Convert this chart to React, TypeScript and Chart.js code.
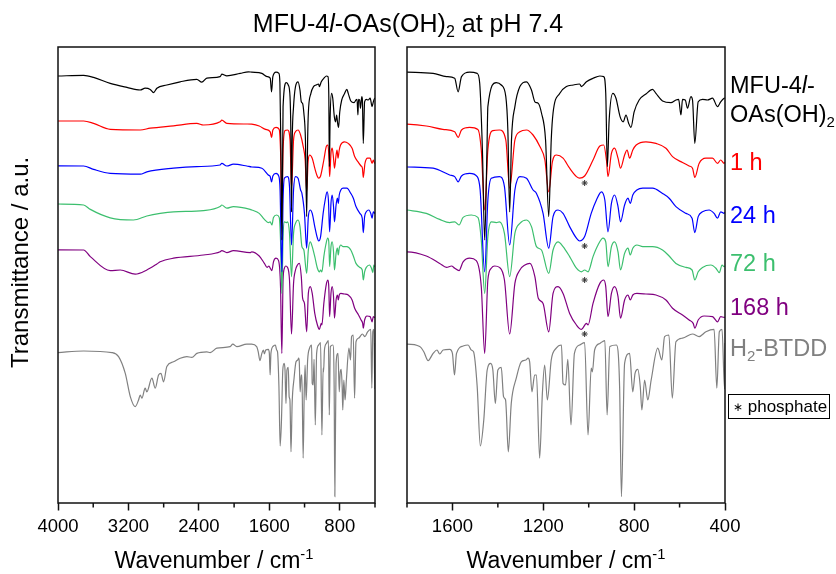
import React, { useEffect, useRef } from "react";
import { Chart, registerables } from "chart.js";

Chart.register(...registerables);

// ---------- data: [wavenumber (cm-1), offset transmittance (a.u.)] ----------
const mfuSpectrum: [number, number][] = [
  [4000, 106.75], [3709, 106.9], [3596, 106.4], [3407, 104.9], [3217, 103.9], [3066, 103.25], [3010, 103.7],
  [2953, 103.4], [2915, 102.6], [2877, 103.7], [2764, 104.5], [2613, 105.3], [2424, 105.9], [2367, 105.2],
  [2310, 106.2], [2159, 106.6], [2140, 107.2], [2083, 106.8], [1932, 107.4], [1837, 107.8],
  [1800, 107.7], [1685, 107.4], [1626, 106.6], [1590, 106.2], [1575, 102.8], [1560, 106.6], [1524, 107.7],
  [1491, 107.4], [1480, 105], [1468, 88.25], [1458, 65.75], [1448, 88.25], [1444, 99.1], [1407, 105.1],
  [1385, 104.5], [1365, 101.6], [1356, 93.25], [1348, 72.75], [1340, 90.75], [1325, 99.1], [1303, 104.1],
  [1274, 105.3], [1252, 103.25], [1237, 100.3], [1222, 99.9], [1208, 97.5], [1190, 90.75], [1176, 71.6],
  [1165, 90.75], [1157, 97.5], [1128, 102.4], [1098, 104.1], [1069, 104.5], [1040, 104.75], [1032, 104.1],
  [1010, 105.3], [980, 106.2], [951, 106.75], [934, 106.6], [925, 102.4], [918, 84.1], [910, 95.75],
  [894, 102.4], [880, 101.2], [862, 96.6], [848, 95.3], [836, 97], [824, 94.9], [814, 93.9], [800, 97.8],
  [778, 100.75], [748, 102.25], [719, 103.4], [704, 102.4], [675, 100.5], [638, 100.1], [616, 100.75],
  [604, 100.9], [594, 97], [587, 100.9], [575, 100.75], [565, 98.7], [550, 101.6], [543, 100.75],
  [533, 89.9], [518, 100.3], [499, 100.9], [477, 100.75], [455, 101.2], [433, 99.1], [419, 100.3],
  [404, 101.2], [400, 101.25],
];

const h1Spectrum: [number, number][] = [
  [4000, 95.5], [3709, 95.5], [3596, 94.9], [3407, 93.4], [3066, 93.25], [2953, 93.7], [2688, 94.3],
  [2424, 94.9], [2348, 94.5], [2159, 95.3], [2140, 95.7], [2083, 94.9], [1856, 94.75],
  [1800, 94.7], [1715, 94.25], [1642, 93.4], [1590, 92.8], [1575, 91.4], [1560, 93.25], [1524, 93.9],
  [1488, 93.4], [1473, 88.25], [1458, 73.25], [1444, 88.25], [1422, 93.1], [1393, 93.25], [1365, 90.75],
  [1348, 78.7], [1325, 90.75], [1303, 92.8], [1274, 93.25], [1245, 92], [1215, 89.1], [1193, 85.75],
  [1176, 77.8], [1160, 85.3], [1142, 87], [1113, 86.2], [1084, 83.7], [1054, 81.6], [1040, 81.2],
  [1018, 81.75], [981, 85.75], [951, 89.25], [934, 89.5], [922, 85.75], [915, 81.6], [900, 87.4],
  [886, 88.7], [871, 86.2], [860, 83.7], [842, 87], [831, 88.25], [820, 86.2], [806, 88.25], [791, 89.5],
  [748, 90.3], [704, 89.9], [660, 88.7], [631, 86.6], [587, 85.1], [558, 84.25], [543, 83.7], [533, 81.4],
  [514, 84.9], [484, 86.2], [455, 86.2], [433, 84.9], [419, 85.75], [404, 84.9], [400, 85.25],
];

const h24Spectrum: [number, number][] = [
  [4000, 84.3], [3709, 84.25], [3596, 83.4], [3407, 82.4], [3066, 82.2], [2991, 82.8], [2688, 83.7],
  [2424, 84.1], [2159, 84.5], [2140, 84.9], [2083, 84.25], [2008, 84.7], [1856, 84.25],
  [1800, 84], [1685, 83.7], [1612, 82], [1590, 81.6], [1575, 80.3], [1560, 81.75], [1524, 82.4],
  [1491, 81.6], [1478, 78.25], [1458, 57.8], [1444, 75.75], [1429, 81.2], [1393, 81.6], [1371, 79.1],
  [1348, 64.5], [1325, 78.25], [1303, 81.6], [1274, 81.2], [1245, 78.25], [1230, 77.4], [1201, 72.4],
  [1176, 63.7], [1157, 71.6], [1135, 73.25], [1113, 72.4], [1084, 69.1], [1054, 66.2], [1040, 65.5],
  [1018, 66.6], [989, 72.4], [966, 75.75], [944, 77.8], [929, 75.75], [915, 67.8], [900, 74.9], [886, 77],
  [871, 74.1], [860, 70.3], [842, 74.5], [827, 76.2], [817, 74.9], [806, 77], [788, 78.25], [762, 78.7],
  [719, 78.7], [675, 77.4], [646, 76.2], [616, 74.1], [572, 72.4], [545, 71.2], [533, 67.6], [518, 71.6],
  [499, 72.8], [470, 73.25], [448, 72.4], [433, 71.2], [419, 72.8], [404, 72.4], [400, 72.75],
];

const h72Spectrum: [number, number][] = [
  [4000, 74.75], [3709, 74.5], [3633, 73.4], [3407, 71.3], [3143, 70.75], [2991, 71.75], [2840, 72.4],
  [2688, 72.8], [2348, 73.1], [2159, 74.1], [2140, 74.5], [2083, 73.7], [2008, 74.1], [1818, 73.4],
  [1800, 73.25], [1715, 72.4], [1656, 70.9], [1612, 70.1], [1590, 70.3], [1571, 69.5], [1553, 71.4],
  [1517, 72], [1488, 71.4], [1473, 65.75], [1458, 52.4], [1444, 66.6], [1429, 70.3], [1407, 70.1],
  [1393, 70.3], [1371, 67.4], [1348, 56.6], [1325, 67.4], [1303, 69.9], [1274, 70.75], [1252, 69.1],
  [1230, 64.1], [1208, 63.25], [1176, 57.4], [1157, 63.25], [1135, 65.3], [1113, 64.1], [1084, 61.6],
  [1054, 58.7], [1032, 57.8], [1018, 58.25], [1003, 57.8], [981, 61.6], [959, 64.5], [937, 66.2],
  [925, 65.3], [915, 59.1], [900, 64.1], [886, 65.3], [871, 62.8], [860, 58.25], [842, 62.4], [827, 63.7],
  [817, 62], [806, 63.7], [788, 64.5], [762, 64.1], [719, 64.1], [675, 63.25], [646, 61.75], [616, 59.9],
  [572, 58.9], [545, 58.25], [533, 55.75], [518, 57.8], [499, 58.9], [462, 59.5], [440, 58.7], [425, 57.6],
  [413, 59.5], [404, 59.1], [400, 59.25],
];

const h168Spectrum: [number, number][] = [
  [4000, 63.3], [3709, 63.25], [3633, 61.6], [3407, 58.1], [3293, 58.25], [3123, 57.2], [2991, 58.25],
  [2877, 59.75], [2840, 60.3], [2688, 61.2], [2348, 62], [2159, 62.8], [2140, 63.1], [2083, 62.6],
  [2008, 63.1], [1818, 62.6],
  [1800, 62.8], [1715, 61.75], [1656, 59.9], [1626, 58.9], [1604, 59.25], [1590, 58.7], [1571, 58.1],
  [1553, 60.3], [1524, 61.2], [1495, 60.6], [1473, 54.1], [1458, 37.4], [1444, 55.75], [1429, 58.7],
  [1414, 59.25], [1393, 58.9], [1371, 55.75], [1348, 42.25], [1325, 54.9], [1303, 58.25], [1281, 59.5],
  [1259, 59.9], [1237, 56.6], [1222, 51.2], [1201, 49.9], [1176, 42.8], [1157, 52.4], [1135, 54.1],
  [1113, 52.4], [1084, 47.4], [1054, 44.5], [1032, 43.4], [1010, 44.9], [1003, 44.5], [981, 49.9],
  [951, 54.9], [934, 55.75], [925, 54.1], [915, 46.6], [900, 52.4], [886, 54.1], [871, 51.6], [860, 46.2],
  [842, 50.75], [827, 52], [817, 50.75], [806, 52], [788, 52.4], [748, 52.25], [704, 52], [660, 50.75],
  [631, 48.7], [587, 47], [558, 45.75], [540, 44.9], [533, 43.7], [518, 45.75], [492, 46.75], [455, 46.6],
  [433, 45.3], [419, 46.6], [404, 46.4], [400, 46.5],
];

const btddSpectrum: [number, number][] = [
  [4000, 37.6], [3709, 38], [3388, 37.6], [3312, 36.6], [3236, 32.4], [3179, 26.6], [3123, 24.1],
  [3085, 25.75], [3066, 27], [3047, 26.2], [3010, 28.7], [2991, 27.8], [2934, 31.2], [2896, 28.7],
  [2858, 32], [2831, 32.4], [2801, 30.3], [2764, 34.1], [2688, 35.3], [2612, 36.2], [2537, 36.6],
  [2480, 36.4], [2423, 37.4], [2310, 37.8], [2272, 37.6], [2196, 38.7], [2045, 39.1], [2015, 39.7],
  [1969, 39.1], [1856, 39.7],
  [1800, 39.7], [1744, 39.1], [1726, 37.8], [1707, 35.6], [1685, 37.4], [1668, 38.25], [1656, 37.25],
  [1641, 38.25], [1612, 38.4], [1600, 37.4], [1591, 32], [1582, 37.4], [1553, 39.25], [1531, 39.5],
  [1517, 38.25], [1507, 37.8], [1491, 29.1], [1477, 14.25], [1462, 20.75], [1447, 33.25], [1432, 34.9],
  [1422, 33.25], [1411, 24.9], [1400, 33.25], [1385, 33.9], [1375, 26.6], [1366, 25.75], [1363, 23.25],
  [1354, 12.8], [1341, 24.9], [1319, 31.2], [1297, 35.3], [1277, 35.75], [1267, 36.2], [1260, 35.3],
  [1250, 27.8], [1238, 32], [1230, 32], [1216, 11.2], [1204, 27.4], [1194, 34.5], [1182, 25.75],
  [1165, 35.75], [1143, 38.7], [1120, 39.5], [1113, 29.9], [1102, 29.5], [1092, 35.9], [1078, 19.5],
  [1063, 37.4], [1040, 39.5], [1018, 40.1], [1003, 17], [989, 33.7], [984, 32.8], [974, 38.25],
  [951, 39.9], [929, 40.6], [919, 22], [907, 39.1], [878, 39.5], [864, 29.1], [856, 1.6], [842, 34.9],
  [820, 37.4], [806, 27.8], [796, 32.4], [784, 33.4], [773, 29.1], [766, 23.25], [754, 30.75], [740, 25.75],
  [725, 30.75], [696, 38.7], [678, 35.75], [666, 41.6], [647, 42], [632, 26.2], [616, 40.3], [587, 41.2],
  [543, 42.25], [514, 41.6], [484, 42.8], [448, 43.4], [436, 28.7], [425, 42.8], [413, 43.4], [402, 28.5],
  [400, 40],
];

// phosphate band markers (*)
const phosphateMarks: [number, number][] = [[1018, 80], [1018, 64.25], [1018, 55.75], [1018, 42.25]];

const seriesNames = ["MFU-4l-OAs(OH)2", "1 h", "24 h", "72 h", "168 h", "H2-BTDD"];
const seriesColors = ["#000000", "#ff0000", "#0000ff", "#3cbf6e", "#800080", "#808080"];
const seriesData = [mfuSpectrum, h1Spectrum, h24Spectrum, h72Spectrum, h168Spectrum, btddSpectrum];

const leftTicks = [4000, 3600, 3200, 2800, 2400, 2000, 1600, 1200, 800, 400];
const leftLabels = [4000, 3200, 2400, 1600, 800];
const rightTicks = [1800, 1600, 1400, 1200, 1000, 800, 600, 400];
const rightLabels = [1600, 1200, 800, 400];

const FONT = "'Liberation Sans', Arial, Helvetica, sans-serif";
const W = 836;
const H = 574;

const framePlugin = {
  id: "frame",
  afterDatasetsDraw(chart: any, _args: any, opts: any) {
    const { ctx, chartArea: a } = chart;
    const x = chart.scales.x;
    ctx.save();
    ctx.strokeStyle = "#111";
    ctx.lineWidth = 1.5;
    ctx.strokeRect(a.left, a.top, a.right - a.left, a.bottom - a.top);
    const labels: number[] = opts.labels || [];
    for (const v of opts.ticks || []) {
      if (labels.includes(v)) continue;
      const px = x.getPixelForValue(v);
      ctx.beginPath();
      ctx.moveTo(px, a.bottom);
      ctx.lineTo(px, a.bottom + 4.5);
      ctx.stroke();
    }
    ctx.restore();
  },
};

type PanelProps = {
  min: number;
  max: number;
  ticks: number[];
  labels: number[];
  area: { left: number; right: number; top: number; bottom: number };
  stars: boolean;
};

function Panel({ min, max, ticks, labels, area, stars }: PanelProps) {
  const ref = useRef<HTMLCanvasElement>(null);
  useEffect(() => {
    const datasets: any[] = seriesData.map((d, i) => ({
      label: seriesNames[i],
      data: d.map(([x, y]) => ({ x, y })),
      borderColor: seriesColors[i],
      borderWidth: 1.2,
      pointRadius: 0,
      fill: false,
      cubicInterpolationMode: "monotone",
    }));
    if (stars) {
      datasets.unshift({
        type: "scatter",
        label: "phosphate",
        data: phosphateMarks.map(([x, y]) => ({ x, y })),
        pointStyle: "star",
        pointRadius: 3,
        borderColor: "#333",
        backgroundColor: "#333",
        borderWidth: 1,
        showLine: false,
      });
    }
    const chart = new Chart(ref.current as HTMLCanvasElement, {
      type: "line",
      data: { datasets },
      plugins: [framePlugin],
      options: {
        animation: false,
        responsive: false,
        events: [],
        layout: { padding: { left: area.left, right: W - area.right, top: area.top, bottom: 0 } },
        plugins: {
          legend: { display: false },
          tooltip: { enabled: false },
          title: { display: false },
          frame: { ticks, labels },
        } as any,
        scales: {
          x: {
            type: "linear",
            min,
            max,
            reverse: true,
            afterFit: (s: any) => {
              s.height = H - area.bottom;
            },
            afterBuildTicks: (s: any) => {
              s.ticks = ticks.map((v) => ({ value: v }));
            },
            ticks: {
              autoSkip: false,
              maxRotation: 0,
              minRotation: 0,
              padding: 5,
              color: "#000",
              font: { family: FONT, size: 18.5 },
              callback: (v: any) => (labels.includes(Number(v)) ? String(v) : ""),
            },
            grid: {
              display: true,
              drawOnChartArea: false,
              drawTicks: true,
              tickLength: 7.5,
              tickWidth: 1.5,
              tickColor: (c: any) =>
                c.tick && labels.includes(c.tick.value) ? "#111" : "rgba(0,0,0,0)",
            },
            border: { display: false },
          },
          y: { display: false, min: 0, max: 114 },
        },
      } as any,
    });
    return () => chart.destroy();
  }, []);
  return (
    <canvas
      ref={ref}
      width={W}
      height={H}
      style={{ position: "absolute", left: 0, top: 0, width: W, height: H }}
    />
  );
}

const Sub = ({ children }: { children: any }) => (
  <span style={{ fontSize: "0.64em", position: "relative", top: "0.32em" }}>{children}</span>
);
const Sup = ({ children }: { children: any }) => (
  <span style={{ fontSize: "0.64em", position: "relative", top: "-0.62em" }}>{children}</span>
);

function Txt({ left, top, color = "#000", size = 22, children, style = {} }: any) {
  return (
    <div
      style={{
        position: "absolute",
        left,
        top,
        color,
        fontSize: size,
        lineHeight: `${size}px`,
        fontFamily: FONT,
        whiteSpace: "nowrap",
        ...style,
      }}
    >
      {children}
    </div>
  );
}

export default function App() {
  const leftArea = { left: 58, right: 375, top: 47, bottom: 503 };
  const rightArea = { left: 407, right: 725, top: 47, bottom: 503 };
  const LS = 23.5;
  return (
    <div
      style={{
        position: "absolute",
        left: 0,
        top: 0,
        width: W,
        height: H,
        background: "#fff",
        overflow: "hidden",
      }}
    >
      <Panel min={400} max={4000} ticks={leftTicks} labels={leftLabels} area={leftArea} stars={false} />
      <Panel min={400} max={1800} ticks={rightTicks} labels={rightLabels} area={rightArea} stars={true} />

      <Txt left={158} top={10.5} size={25} style={{ width: 500, textAlign: "center" }}>
        MFU-4<i>l</i>-OAs(OH)<Sub>2</Sub> at pH 7.4
      </Txt>

      <Txt left={8} top={368} size={24} style={{ transform: "rotate(-90deg)", transformOrigin: "0 0" }}>
        Transmittance / a.u.
      </Txt>

      <Txt left={14} top={548.8} size={23} style={{ width: 400, textAlign: "center" }}>
        Wavenumber / cm<Sup>-1</Sup>
      </Txt>
      <Txt left={366} top={548.8} size={23} style={{ width: 400, textAlign: "center" }}>
        Wavenumber / cm<Sup>-1</Sup>
      </Txt>

      <Txt left={730} top={74.4} size={LS} color={seriesColors[0]}>
        MFU-4<i>l</i>-
      </Txt>
      <Txt left={730} top={103.4} size={LS} color={seriesColors[0]}>
        OAs(OH)<Sub>2</Sub>
      </Txt>
      <Txt left={730} top={150.8} size={LS} color={seriesColors[1]}>
        {seriesNames[1]}
      </Txt>
      <Txt left={730} top={204.1} size={LS} color={seriesColors[2]}>
        {seriesNames[2]}
      </Txt>
      <Txt left={730} top={251.8} size={LS} color={seriesColors[3]}>
        {seriesNames[3]}
      </Txt>
      <Txt left={730} top={296.1} size={LS} color={seriesColors[4]}>
        {seriesNames[4]}
      </Txt>
      <Txt left={730} top={337.4} size={LS} color={seriesColors[5]}>
        H<Sub>2</Sub>-BTDD
      </Txt>

      <div
        style={{
          position: "absolute",
          left: 728,
          top: 394,
          width: 102,
          height: 25,
          boxSizing: "border-box",
          border: "1px solid #000",
          fontFamily: FONT,
          fontSize: 17,
          lineHeight: "23px",
          paddingLeft: 4,
          whiteSpace: "nowrap",
          color: "#000",
        }}
      >
        <span style={{ fontSize: 12, position: "relative", top: "-1px" }}>∗</span> phosphate
      </div>
    </div>
  );
}
